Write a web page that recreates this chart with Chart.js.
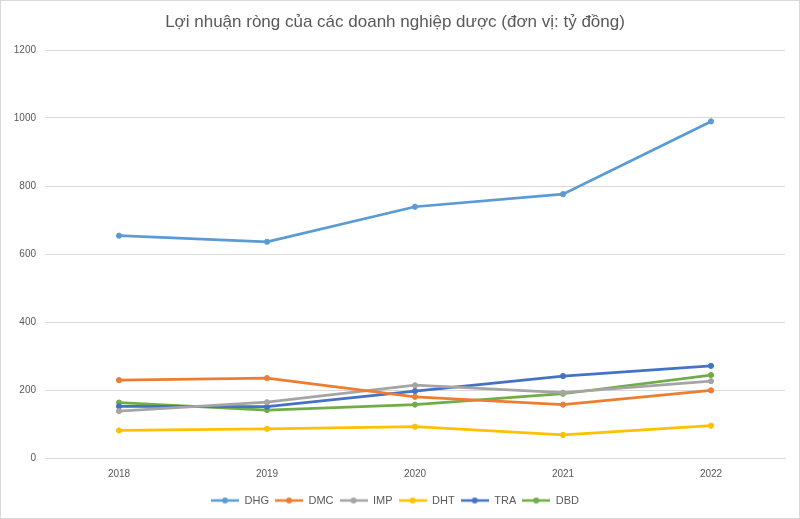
<!DOCTYPE html>
<html>
<head>
<meta charset="utf-8">
<script src="https://cdn.jsdelivr.net/npm/chart.js@4"></script>
<style>
  html,body{margin:0;padding:0;background:#fff;}
  #wrap{position:relative;width:800px;height:519px;box-sizing:border-box;border:1px solid #d9d9d9;}
  canvas{display:block;}
</style>
</head>
<body>
<div id="wrap"><canvas id="c" width="798" height="517"></canvas></div>
<script>
const categories = ['2018','2019','2020','2021','2022'];
const DHG = [654, 636, 739, 776, 990];
const DMC = [229, 235, 180, 157, 199];
const IMP = [138, 164, 214, 192, 226];
const DHT = [81, 86, 92, 68, 95];
const TRA = [152, 151, 197, 241, 271];
const DBD = [163, 141, 157, 189, 244];
const seriesNames = ['DHG','DMC','IMP','DHT','TRA','DBD'];
const colors = ['#5B9BD5','#ED7D31','#A5A5A5','#FFC000','#4472C4','#70AD47'];
const titleText = 'Lợi nhuận ròng của các doanh nghiệp dược (đơn vị: tỷ đồng)';

function legendIcon(color){
  const cv = document.createElement('canvas');
  cv.width = 28; cv.height = 10;
  const g = cv.getContext('2d');
  g.strokeStyle = color; g.lineWidth = 2.5;
  g.beginPath(); g.moveTo(0,5); g.lineTo(28,5); g.stroke();
  g.fillStyle = color;
  g.beginPath(); g.arc(14,5,3,0,Math.PI*2); g.fill();
  return cv;
}

const values = [DHG, DMC, IMP, DHT, TRA, DBD];
const datasets = seriesNames.map((n,i)=>({
  label: n,
  data: values[i],
  borderColor: colors[i],
  backgroundColor: colors[i],
  borderWidth: 2.75,
  pointRadius: 2.6,
  pointHoverRadius: 2.6,
  pointBorderWidth: 1,
  pointStyle: 'circle',
  tension: 0,
  fill: false,
  _icon: legendIcon(colors[i])
}));

const font = "'Liberation Sans', Arial, sans-serif";

new Chart(document.getElementById('c'), {
  type: 'line',
  data: { labels: categories, datasets },
  options: {
    responsive: false,
    animation: false,
    devicePixelRatio: 1,
    layout: { padding: { left: 4, right: 14, top: 0, bottom: 2 } },
    plugins: {
      title: {
        display: true,
        text: titleText,
        color: '#595959',
        font: { family: font, size: 17, weight: 'normal' },
        padding: { top: 11, bottom: 17.6 }
      },
      legend: {
        position: 'bottom',
        labels: {
          color: '#595959',
          font: { family: font, size: 11 },
          usePointStyle: true,
          pointStyleWidth: 28,
          boxHeight: 10,
          padding: 6,
          generateLabels(chart){
            return chart.data.datasets.map((d,i)=>({
              text: d.label,
              fontColor: '#595959',
              pointStyle: d._icon,
              fillStyle: d.borderColor,
              strokeStyle: d.borderColor,
              lineWidth: 0,
              hidden: false,
              datasetIndex: i
            }));
          }
        }
      },
      tooltip: { enabled: false }
    },
    scales: {
      x: {
        offset: true,
        grid: { display: false, drawTicks: false },
        border: { display: true, color: '#d9d9d9' },
        ticks: { color: '#595959', font: { family: font, size: 10 }, padding: 10 },
        afterFit(s){ s.height = 31; }
      },
      y: {
        min: 0, max: 1200,
        ticks: { stepSize: 200, color: '#595959', font: { family: font, size: 10 }, padding: 9,
                 callback: v => String(v) },
        grid: { color: '#d9d9d9', drawTicks: false },
        border: { display: false },
        afterFit(s){ s.width = 40; }
      }
    }
  }
});
</script>
</body>
</html>
